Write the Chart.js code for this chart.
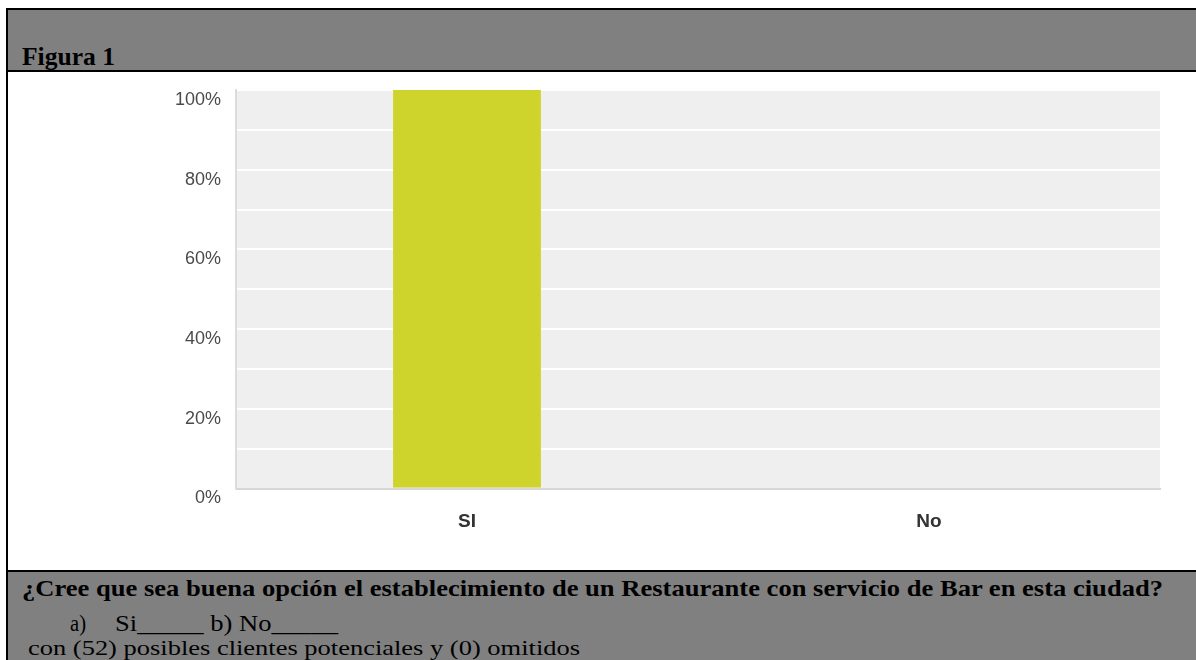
<!DOCTYPE html>
<html>
<head>
<meta charset="utf-8">
<script src="https://cdn.jsdelivr.net/npm/chart.js@4.4.1/dist/chart.umd.min.js"></script>
<style>
  html, body { margin: 0; padding: 0; background: #fff; }
  body { width: 1196px; height: 660px; position: relative; overflow: hidden; }
  .blk { position: absolute; }
  .txt { position: absolute; white-space: nowrap; color: #000; font-family: "Liberation Serif", "Times New Roman", serif; line-height: 1.2; transform-origin: 0 0; }
  .mk { display: inline-block; width: 0; height: 0; }
  #wrap { position: absolute; left: 0; top: 0; width: 1196px; height: 660px; }
</style>
</head>
<body>
<div class="blk" style="left:6px;top:8px;width:1190px;height:2px;background:#000"></div>
<div class="blk" style="left:6px;top:10px;width:1190px;height:60px;background:#808080"></div>
<div class="blk" style="left:6px;top:70px;width:1190px;height:2px;background:#000"></div>
<div class="blk" style="left:6px;top:570px;width:1190px;height:2px;background:#000"></div>
<div class="blk" style="left:6px;top:572px;width:1190px;height:88px;background:#808080"></div>
<div class="blk" style="left:6px;top:8px;width:2px;height:652px;background:#000"></div>

<div class="txt" data-x="22" data-base="64.5" data-w="93" style="font-weight:bold;font-size:25px">Figura 1<span class="mk"></span></div>
<div class="txt" data-x="22" data-base="596" data-w="1141" style="font-weight:bold;font-size:23px">¿Cree que sea buena opción el establecimiento de un Restaurante con servicio de Bar en esta ciudad?<span class="mk"></span></div>
<div class="txt" data-x="70" data-base="631" data-w="16" style="font-size:23px">a)<span class="mk"></span></div>
<div class="txt" data-x="115" data-base="631" data-w="223" style="font-size:23px">Si_____ b) No_____<span class="mk"></span></div>
<div class="txt" data-x="28" data-base="655" data-w="552" style="font-size:22px">con (52) posibles clientes potenciales y (0) omitidos<span class="mk"></span></div>

<div id="wrap"><canvas id="c" width="1196" height="660"></canvas></div>

<script>
// ---- data ----
const categories = ['SI', 'No'];
const percentValues = [100, 0];
const yTickValues = [0, 20, 40, 60, 80, 100];
const yGridStep = 10;

// ---- text placement ----
document.querySelectorAll('.txt').forEach(el => {
  el.style.left = el.dataset.x + 'px';
  el.style.top = '0px';
  const mk = el.querySelector('.mk');
  const base = mk.getBoundingClientRect().bottom;
  el.style.top = (parseFloat(el.dataset.base) - base) + 'px';
  const w = el.getBoundingClientRect().width;
  const target = parseFloat(el.dataset.w);
  el.style.transform = 'scaleX(' + (target / w) + ')';
});

// ---- chart ----
const plotBg = {
  id: 'plotBg',
  beforeDraw(chart) {
    const {ctx, chartArea: a} = chart;
    ctx.save();
    ctx.fillStyle = '#efefef';
    ctx.fillRect(a.left, a.top, a.right - a.left, a.bottom - a.top);
    ctx.restore();
  }
};

new Chart(document.getElementById('c'), {
  type: 'bar',
  data: {
    labels: categories,
    datasets: [{
      data: percentValues,
      backgroundColor: '#ced42b',
      borderWidth: 0,
      categoryPercentage: 1,
      barPercentage: 0.32
    }]
  },
  options: {
    responsive: false,
    animation: false,
    devicePixelRatio: 1,
    layout: { padding: { top: 90, right: 36, bottom: 0, left: 0 } },
    plugins: { legend: { display: false }, tooltip: { enabled: false } },
    scales: {
      x: {
        afterFit(s) { s.height = 171.5; },
        grid: { display: false, drawTicks: false },
        border: { display: true, color: '#d6d6d6', width: 2 },
        ticks: {
          padding: 22,
          color: '#333',
          font: { family: 'Liberation Sans, Arial, sans-serif', size: 19, weight: 'bold' }
        }
      },
      y: {
        min: 0, max: 100,
        afterFit(s) { s.width = 236; },
        afterBuildTicks(s) {
          const t = [];
          for (let v = 0; v <= 100; v += yGridStep) t.push({ value: v });
          s.ticks = t;
        },
        grid: { color: '#ffffff', lineWidth: 2, drawTicks: false },
        border: { display: true, color: '#dcdcdc', width: 2 },
        ticks: {
          autoSkip: false,
          padding: 15,
          labelOffset: 10,
          color: '#4a4a4a',
          font: { family: 'Liberation Sans, Arial, sans-serif', size: 18 },
          callback: v => yTickValues.includes(v) ? v + '%' : ''
        }
      }
    }
  },
  plugins: [plotBg]
});
</script>
</body>
</html>
